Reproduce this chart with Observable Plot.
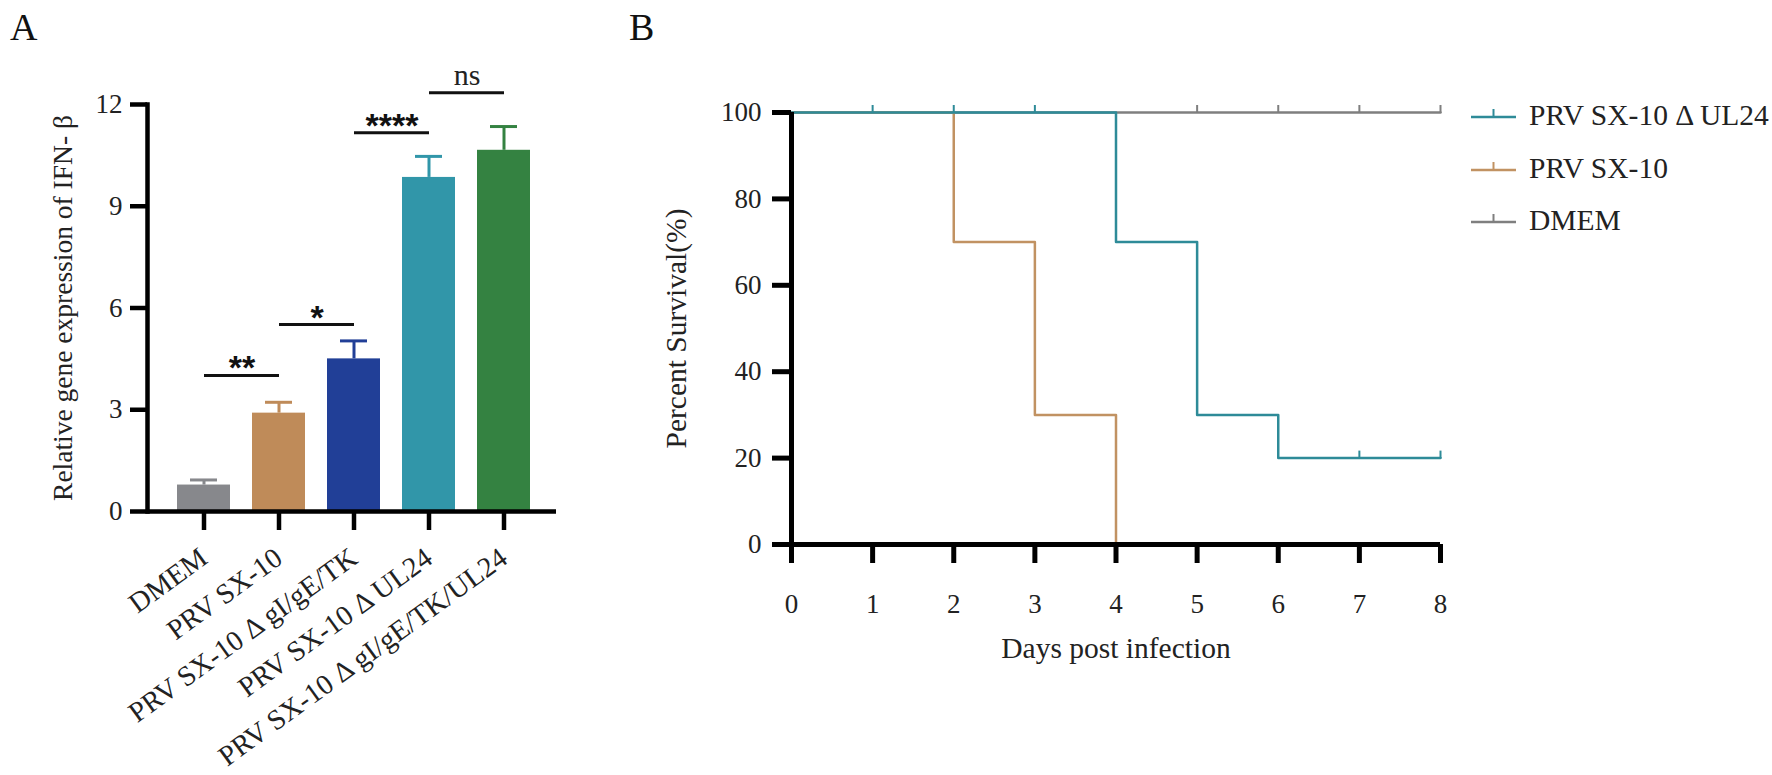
<!DOCTYPE html>
<html><head><meta charset="utf-8">
<script src="https://cdn.jsdelivr.net/npm/d3@7"></script>
<script src="https://cdn.jsdelivr.net/npm/@observablehq/plot@0.6"></script>
<style>
body{margin:0;background:#fff;}
#wrap{position:relative;width:1772px;height:775px;overflow:hidden;background:#fff;font-family:"Liberation Serif",serif;}
.panel{position:absolute;top:0;}
.plabel{position:absolute;font-size:38px;line-height:1;color:#111;}
#legend{position:absolute;left:1471px;top:0;}
.lrow{position:absolute;left:0;height:30px;display:flex;align-items:center;white-space:nowrap;font-size:29.5px;line-height:30px;color:#222;}
.lrow svg{margin-right:13px;}
</style></head><body>
<div id="wrap">
  <div class="plabel" style="left:10px;top:8px">A</div>
  <div class="plabel" style="left:629px;top:8px">B</div>
  <div id="panelA" class="panel" style="left:0"></div>
  <div id="panelB" class="panel" style="left:600px"></div>
  <div id="legend"></div>
</div>
<script>
// ---------- Panel A data ----------
const groups = ["DMEM", "PRV SX-10", "PRV SX-10 Δ gI/gE/TK", "PRV SX-10 Δ UL24", "PRV SX-10 Δ gI/gE/TK/UL24"];
const means = [0.78, 2.9, 4.5, 9.85, 10.65];
const errs = [0.15, 0.32, 0.53, 0.62, 0.70];
const barColors = ["#87888c", "#bf8b59", "#213f97", "#3196a9", "#348241"];
const yTicksA = [0, 3, 6, 9, 12];
const sigFrom = ["DMEM", "PRV SX-10", "PRV SX-10 Δ gI/gE/TK", "PRV SX-10 Δ UL24"];
const sigTo = ["PRV SX-10", "PRV SX-10 Δ gI/gE/TK", "PRV SX-10 Δ UL24", "PRV SX-10 Δ gI/gE/TK/UL24"];
const sigY = [4.01, 5.51, 11.17, 12.35];
const sigLabels = ["**", "*", "****", "ns"];

// ---------- Panel B data ----------
const dayTicks = [0, 1, 2, 3, 4, 5, 6, 7, 8];
const survTicks = [0, 20, 40, 60, 80, 100];
const seriesNames = ["PRV SX-10 Δ UL24", "PRV SX-10", "DMEM"];
const seriesColors = ["#2e8b98", "#c19262", "#7f7f7f"];
const ul24Days = [0, 4, 5, 6, 8];
const ul24Surv = [100, 70, 30, 20, 20];
const sx10Days = [0, 2, 3, 4];
const sx10Surv = [100, 70, 30, 0];
const dmemDays = [0, 8];
const dmemSurv = [100, 100];
const ul24CensorDays = [1, 2, 3, 7, 8];
const ul24CensorSurv = [100, 100, 100, 20, 20];
const dmemCensorDays = [5, 6, 7, 8];
const dmemCensorSurv = [100, 100, 100, 100];

// ---------- Panel A ----------
const barData = groups.map((g, i) => ({group: g, mean: means[i], err: errs[i]}));
const sigData = sigLabels.map((s, i) => ({from: sigFrom[i], to: sigTo[i], y: sigY[i], label: s}));
const half = 38; // half of band step, centres label between two bars

const plotA = Plot.plot({
  width: 600, height: 775,
  marginLeft: 147, marginRight: 44, marginTop: 104, marginBottom: 264,
  style: {fontFamily: "'Liberation Serif', serif", fontSize: "27px", color: "#222", background: "transparent", overflow: "visible"},
  x: {domain: groups, paddingInner: 0.3, paddingOuter: 0.341, align: 0.53, label: null},
  y: {domain: [0, 12], label: null},
  color: {domain: groups, range: barColors},
  marks: [
    Plot.barY(barData, {x: "group", y: "mean", fill: "group"}),
    Plot.ruleX(barData, {x: "group", y1: "mean", y2: d => d.mean + d.err, stroke: "group", strokeWidth: 3}),
    Plot.tickY(barData, {x: "group", y: d => d.mean + d.err, stroke: "group", strokeWidth: 3, insetLeft: 13, insetRight: 13}),
    Plot.link(sigData, {x1: "from", x2: "to", y1: "y", y2: "y", stroke: "#111", strokeWidth: 3}),
    Plot.text(sigData, {filter: d => d.label !== "ns", x: "from", y: "y", text: "label", dx: half, dy: 4, lineAnchor: "bottom",
      fontFamily: "'Liberation Sans', Arial, sans-serif", fontWeight: "bold", fontSize: 34, fill: "#111"}),
    Plot.text(sigData, {filter: d => d.label === "ns", x: "from", y: "y", text: "label", dx: half, dy: -8, lineAnchor: "bottom",
      fontSize: 30, fill: "#222"}),
    Plot.ruleY([0], {strokeWidth: 4.5, stroke: "#000"}),
    Plot.frame({anchor: "left", strokeWidth: 4.5, stroke: "#000"}),
    Plot.axisY({ticks: yTicksA, tickSize: 17, tickPadding: 8, strokeWidth: 4.5, stroke: "#000", label: null}),
    Plot.axisX({tickSize: 19, tickPadding: 24, tickRotate: -36, strokeWidth: 4.5, stroke: "#000", fontSize: 28.5, label: null}),
    Plot.text(["Relative gene expression of IFN- β"], {frameAnchor: "left", textAnchor: "middle", dx: -84, rotate: -90, fontSize: 27.5, fill: "#222"})
  ]
});
document.getElementById("panelA").append(plotA);

// ---------- Panel B ----------
const toRows = (xs, ys) => xs.map((x, i) => ({day: x, s: ys[i]}));
const ul24 = toRows(ul24Days, ul24Surv);
const sx10 = toRows(sx10Days, sx10Surv);
const dmem = toRows(dmemDays, dmemSurv);
const ul24C = toRows(ul24CensorDays, ul24CensorSurv);
const dmemC = toRows(dmemCensorDays, dmemCensorSurv);
const censorTick = {draw(ctx, size) { const l = Math.sqrt(size / Math.PI); ctx.moveTo(0, 0); ctx.lineTo(0, -l); }};

const plotB = Plot.plot({
  width: 1172, height: 775,
  marginLeft: 191, marginRight: 332, marginTop: 112, marginBottom: 231,
  style: {fontFamily: "'Liberation Serif', serif", fontSize: "27px", color: "#222", background: "transparent", overflow: "visible"},
  x: {domain: [0, 8], label: null},
  y: {domain: [0, 100], label: null},
  marks: [
    Plot.line(dmem, {x: "day", y: "s", curve: "step-after", stroke: seriesColors[2], strokeWidth: 2.5}),
    Plot.line(sx10, {x: "day", y: "s", curve: "step-after", stroke: seriesColors[1], strokeWidth: 2.5}),
    Plot.line(ul24, {x: "day", y: "s", curve: "step-after", stroke: seriesColors[0], strokeWidth: 2.5}),
    Plot.dot(dmemC, {x: "day", y: "s", symbol: censorTick, r: 7.5, fill: "none", stroke: seriesColors[2], strokeWidth: 2}),
    Plot.dot(ul24C, {x: "day", y: "s", symbol: censorTick, r: 7.5, fill: "none", stroke: seriesColors[0], strokeWidth: 2}),
    Plot.ruleY([0], {strokeWidth: 5, stroke: "#000"}),
    Plot.ruleX([0], {strokeWidth: 5, stroke: "#000"}),
    Plot.axisY({ticks: survTicks, tickSize: 19, tickPadding: 11, strokeWidth: 5, stroke: "#000", label: null}),
    Plot.axisX({ticks: dayTicks, tickSize: 19, tickPadding: 30, strokeWidth: 5, stroke: "#000", label: null}),
    Plot.text(["Percent Survival(%)"], {frameAnchor: "left", textAnchor: "middle", dx: -115, rotate: -90, fontSize: 29.5, fill: "#222"}),
    Plot.text(["Days post infection"], {frameAnchor: "bottom", dy: 113, fontSize: 29.5, fill: "#222"})
  ]
});
document.getElementById("panelB").append(plotB);

// ---------- Legend ----------
const legend = document.getElementById("legend");
const rowCenters = [115, 168, 220];
seriesNames.forEach((name, i) => {
  const row = document.createElement("div");
  row.className = "lrow";
  row.style.top = (rowCenters[i] - 15) + "px";
  row.innerHTML = `<svg width="45" height="30"><line x1="0" y1="17" x2="45" y2="17" stroke="${seriesColors[i]}" stroke-width="2.5"/><line x1="22.5" y1="17" x2="22.5" y2="9" stroke="${seriesColors[i]}" stroke-width="2"/></svg><span>${name}</span>`;
  legend.append(row);
});
</script>
</body></html>
